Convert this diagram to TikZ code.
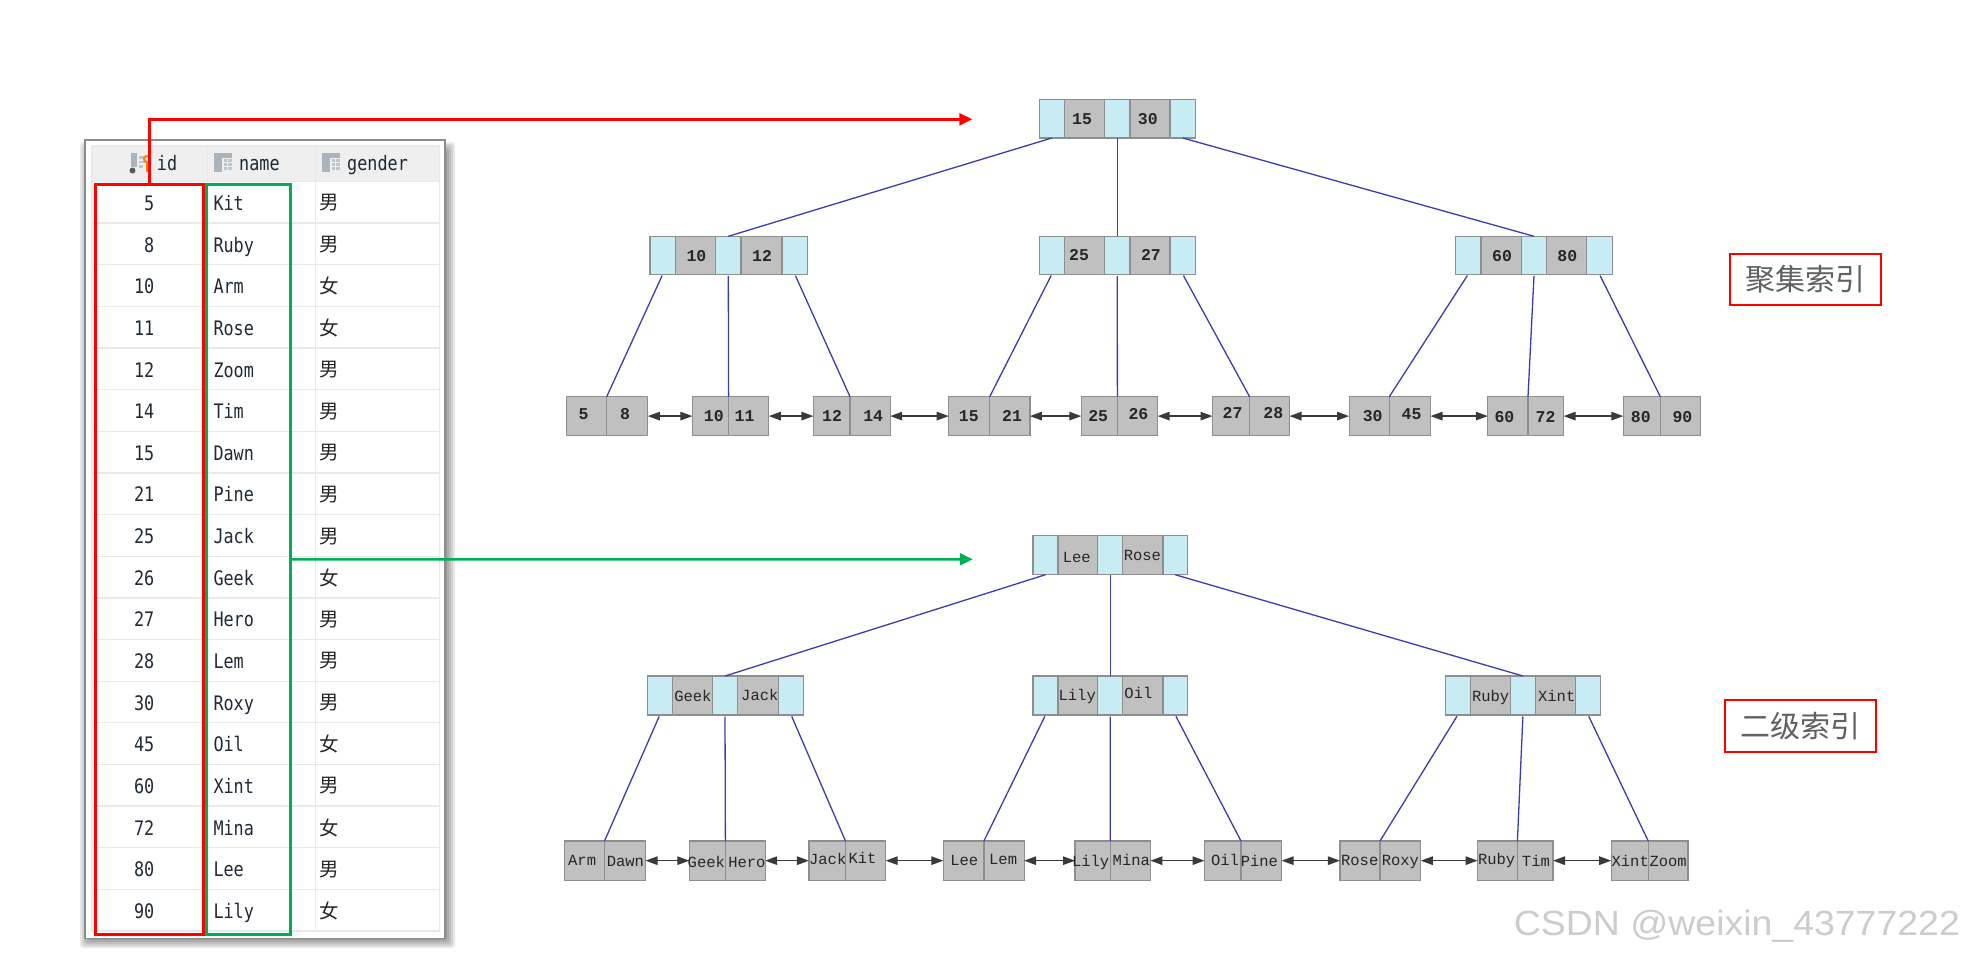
\documentclass[tikz,border=0pt]{standalone}
\usepackage{fontspec}
\usetikzlibrary{arrows.meta}
\setmainfont{Liberation Sans}
\newfontfamily\cjk{Noto Sans CJK SC}
\newfontfamily\tablefont[FakeStretch=0.84]{DejaVu Sans Mono}
\newfontfamily\treefont{Liberation Mono}
\newfontfamily\markfont[FakeStretch=1.07]{Liberation Sans}
\definecolor{cellblue}{HTML}{C8ECF4}
\definecolor{cellgray}{HTML}{C0C0C0}
\definecolor{cellline}{HTML}{8E8E8E}
\definecolor{treeline}{HTML}{3C3CB0}
\definecolor{linkline}{HTML}{3A3A3A}
\definecolor{rowline}{HTML}{E9E9E9}
\definecolor{headfill}{HTML}{EFEFEF}
\definecolor{tabletext}{HTML}{1F2A36}
\definecolor{indexgreen}{HTML}{00B050}
\definecolor{icongray}{HTML}{A9B4BC}
\definecolor{iconlight}{HTML}{BCC5CB}
\tikzset{
  x=1pt,y=-1pt,
  bluecell/.style={draw=cellline,fill=cellblue,line width=1.2pt,inner sep=0pt,outer sep=0pt},
  graycell/.style={draw=cellline,fill=cellgray,line width=1.2pt,inner sep=0pt,outer sep=0pt},
  numtext/.style={font=\treefont\bfseries\fontsize{16.5}{16.5}\selectfont,text=black!85,inner sep=0pt,text height=11pt,text depth=0pt},
  wordtext/.style={font=\treefont\fontsize{15.5}{15.5}\selectfont,text=black!85,inner sep=0pt,text height=10pt,text depth=0pt},
  treeedge/.style={draw=treeline,line width=1.3pt},
  leaflink/.style={draw=linkline,line width=1.3pt,{Triangle[length=12pt,width=8.5pt]}-{Triangle[length=12pt,width=8.5pt]}},
  idcell/.style={font=\tablefont\fontsize{20}{20}\selectfont,text=tabletext,inner sep=0pt,anchor=base east},
  namecell/.style={font=\tablefont\fontsize{20}{20}\selectfont,text=tabletext,inner sep=0pt,anchor=base west},
  gendercell/.style={font=\cjk\fontsize{19.5}{19.5}\selectfont,text=black!85,inner sep=0pt},
  headcell/.style={font=\tablefont\fontsize{20}{20}\selectfont,text=tabletext,inner sep=0pt,anchor=base west},
  indexlabel/.style={draw=red,line width=2pt,fill=white,font=\cjk\fontsize{30}{30}\selectfont,text=black!62,inner sep=0pt,outer sep=0pt},
  colbox/.style={line width=3pt,inner sep=0pt,outer sep=0pt},
  pointer/.style={line width=2.6pt,-{Triangle[length=13pt,width=12pt]}}
}
\newcommand\cell[6]{%
  \pgfmathsetmacro\cw{#3-#2}\pgfmathsetmacro\ch{#5-#4}%
  \node[#6,minimum width=\cw pt,minimum height=\ch pt] (#1) at ({(#2+#3)/2},{(#4+#5)/2}) {};}
\newcommand\innernode[9]{%
  \cell{#1a}{#2}{#3}{#8}{#9}{bluecell}\cell{#1x}{#3}{#4}{#8}{#9}{graycell}%
  \cell{#1b}{#4}{#5}{#8}{#9}{bluecell}\cell{#1y}{#5}{#6}{#8}{#9}{graycell}%
  \cell{#1c}{#6}{#7}{#8}{#9}{bluecell}}
\newcommand\leafnode[6]{%
  \cell{#1a}{#2}{#3}{#5}{#6}{graycell}\cell{#1b}{#3}{#4}{#5}{#6}{graycell}}
\newcommand\num[4]{\node[numtext] (#1) at (#2,#3) {#4};}
\newcommand\word[4]{\node[wordtext] (#1) at (#2,#3) {#4};}
\newcommand\tableicon[2]{%
  \fill[icongray] (#1,#2) rectangle ++(8,18.5);
  \fill[icongray] (#1+8,#2) rectangle ++(10,4.5);
  \fill[iconlight] (#1+9.5,#2+6) rectangle ++(3.5,3);
  \fill[iconlight] (#1+14,#2+6) rectangle ++(4,3);
  \fill[iconlight] (#1+9.5,#2+10) rectangle ++(3.5,3);
  \fill[iconlight] (#1+14,#2+10) rectangle ++(4,3);
  \fill[iconlight] (#1+9.5,#2+14) rectangle ++(3.5,3);
  \fill[iconlight] (#1+14,#2+14) rectangle ++(4,3);}
\begin{document}
\begin{tikzpicture}
\useasboundingbox (0,0) rectangle (1965,956);
\fill[white] (0,0) rectangle (1965,956);
% table shadow and frame
\foreach \s in {12,10,8,6,4,2}{
  \fill[black,opacity=.09,rounded corners=3pt] (85+7-\s,140+14-\s) rectangle (445+\s-2,938+\s-2);
}
\fill[white,draw=black!45,line width=1.4pt] (85,140) rectangle (445,938.3);
% header
\fill[headfill] (92,146) rectangle (439.3,181.5);
\draw[rowline,line width=1.3pt] (92,146) rectangle (439.3,931);
\foreach \i in {0,...,17}{
  \draw[rowline,line width=1.3pt] (92,{181.5+41.64*\i}) -- (439.3,{181.5+41.64*\i});
}
\draw[rowline,line width=1.3pt] (207.3,146) -- (207.3,931);
\draw[rowline,line width=1.3pt] (315.7,146) -- (315.7,931);
% header icons
\fill[icongray] (131,153) rectangle ++(6,14);
\fill[black!65] (132.5,170.5) circle (3pt);
\fill[iconlight] (139,156) rectangle ++(6,2.5);
\fill[iconlight] (139,160.5) rectangle ++(6,2.5);
\fill[iconlight] (139,165) rectangle ++(4,2.5);
\draw[orange,line width=2pt] (147,159) circle (3pt);
\draw[orange,line width=2pt] (147,162) -- (147,172);
\tableicon{214}{153}
\tableicon{322}{153}
\node[headcell] (hid) at (156.7,170) {id};
\node[headcell] (hname) at (239,170) {name};
\node[headcell] (hgender) at (347,170) {gender};
% rows
\foreach \i/\a/\b/\c in {0/5/Kit/男,1/8/Ruby/男,2/10/Arm/女,3/11/Rose/女,4/12/Zoom/男,5/14/Tim/男,6/15/Dawn/男,7/21/Pine/男,8/25/Jack/男,9/26/Geek/女,10/27/Hero/男,11/28/Lem/男,12/30/Roxy/男,13/45/Oil/女,14/60/Xint/男,15/72/Mina/女,16/80/Lee/男,17/90/Lily/女}{
  \node[idcell] (rid\i) at (154.5,{210.5+41.64*\i}) {\a};
  \node[namecell] (rname\i) at (213.3,{210.5+41.64*\i}) {\b};
  \node[gendercell] (rgen\i) at (329,{203+41.64*\i}) {\c};
}
% coloured column boxes
\node[colbox,draw=red,minimum width=107.5pt,minimum height=750.7pt] (idbox) at (149.25,559.35) {};
\node[colbox,draw=indexgreen,minimum width=84pt,minimum height=750.7pt] (namebox) at (248.7,559.35) {};
\coordinate (redtip) at (972.3,119.3);
\coordinate (greentip) at (972.8,559.3);
\draw[pointer,draw=red] (idbox.north) |- (redtip);
\draw[pointer,draw=indexgreen] (namebox.east) -- (greentip);

% clustered index tree
\innernode{ar}{1039.3}{1064.3}{1104.5}{1130}{1170}{1195.5}{99.7}{138}
\innernode{al}{650}{675.4}{715.6}{741}{782}{807.6}{236.3}{274.3}
\innernode{am}{1039.3}{1064.3}{1104.5}{1130}{1170}{1195.5}{236.3}{274.3}
\innernode{an}{1455.4}{1480.9}{1521.6}{1546.5}{1586.7}{1612.2}{236.3}{274.3}
\leafnode{ap}{566.5}{606.7}{647.8}{396.7}{435.5}
\leafnode{aq}{692.4}{728.6}{768.8}{396.7}{435.5}
\leafnode{as}{813.4}{850}{890.2}{396.7}{435.5}
\leafnode{at}{948.7}{989.7}{1029.9}{396.7}{435.5}
\leafnode{au}{1081.3}{1117.4}{1157.6}{396.7}{435.5}
\leafnode{av}{1212.5}{1249.6}{1289.5}{396.7}{435.5}
\leafnode{aw}{1349.1}{1389.3}{1430.5}{396.7}{435.5}
\leafnode{az}{1487.8}{1528}{1563.6}{396.7}{435.5}
\leafnode{ah}{1623.3}{1660.3}{1700.5}{396.7}{435.5}
\draw[treeedge] (ara.south) -- (alb.north);
\draw[treeedge] (arb.south) -- (amb.north);
\draw[treeedge] (arc.south) -- (anb.north);
\foreach \f/\t in {ala/apa.north east,alb/aqa.north east,alc/asa.north east,ama/ata.north east,amb/aua.north east,amc/ava.north east,ana/awa.north east,anb/aza.north east,anc/aha.north east}{
  \draw[treeedge,shorten <=1.5pt] (\f.south) -- (\t);
}
\foreach \f/\t in {ap/aq,aq/as,as/at,at/au,au/av,av/aw,aw/az,az/ah}{
  \draw[leaflink] (\f b.east) -- (\t a.west);
}
\num{n1}{1082}{119}{15}\num{n2}{1147.8}{119}{30}
\num{n3}{696.4}{256}{10}\num{n4}{762}{256}{12}
\num{n5}{1079}{255}{25}\num{n6}{1150.9}{255}{27}
\num{n7}{1502}{256}{60}\num{n8}{1567.3}{256}{80}
\num{n9}{583.5}{414.3}{5}\num{n10}{625}{414.3}{8}
\num{n11}{713.8}{415.7}{10}\num{n12}{744.6}{415.7}{11}
\num{n13}{832}{415.7}{12}\num{n14}{873.2}{415.7}{14}
\num{n15}{968.8}{415.7}{15}\num{n16}{1012}{415.7}{21}
\num{n17}{1098.2}{415.7}{25}\num{n18}{1138.4}{414.3}{26}
\num{n19}{1232.6}{413.3}{27}\num{n20}{1273.3}{413.3}{28}
\num{n21}{1372.7}{415.7}{30}\num{n22}{1411.5}{413.7}{45}
\num{n23}{1504.4}{416.7}{60}\num{n24}{1545.6}{416.7}{72}
\num{n25}{1640.8}{416.7}{80}\num{n26}{1682.4}{416.7}{90}

% secondary index tree
\innernode{br}{1033}{1058}{1097.8}{1122.8}{1163}{1187.5}{535.7}{574.7}
\innernode{bl}{647.3}{672.3}{712.5}{737.5}{778.6}{803.6}{676}{715}
\innernode{bm}{1033}{1058}{1097.8}{1122.8}{1163}{1187.5}{676}{715}
\innernode{bn}{1445.3}{1470.2}{1510.5}{1535.4}{1575.6}{1600.6}{676}{715}
\leafnode{bp}{564.3}{604.5}{645.5}{841}{880.3}
\leafnode{bq}{689.3}{725.4}{765.2}{841}{880.3}
\leafnode{bs}{808.9}{845.5}{885.7}{841}{880.3}
\leafnode{bt}{943.3}{983.9}{1024.1}{841}{880.3}
\leafnode{bu}{1075}{1110.3}{1150.4}{841}{880.3}
\leafnode{bv}{1204.5}{1241}{1281.6}{841}{880.3}
\leafnode{bw}{1339.9}{1380}{1420.8}{841}{880.3}
\leafnode{bz}{1477.6}{1517.4}{1553}{841}{880.3}
\leafnode{bh}{1611.2}{1648.2}{1688}{841}{880.3}
\draw[treeedge] (bra.south) -- (blb.north);
\draw[treeedge] (brb.south) -- (bmb.north);
\draw[treeedge] (brc.south) -- (bnb.north);
\foreach \f/\t in {bla/bpa.north east,blb/bqa.north east,blc/bsa.north east,bma/bta.north east,bmb/bua.north east,bmc/bva.north east,bna/bwa.north east,bnb/bza.north east,bnc/bha.north east}{
  \draw[treeedge,shorten <=1.5pt] (\f.south) -- (\t);
}
\foreach \f/\t in {bp/bq,bq/bs,bs/bt,bt/bu,bu/bv,bv/bw,bw/bz,bz/bh}{
  \draw[leaflink] (\f b.east) -- (\t a.west);
}
\word{w1}{1076.8}{557.7}{Lee}\word{w2}{1142.4}{555.3}{Rose}
\word{w3}{692.9}{696.7}{Geek}\word{w4}{759.8}{695.7}{Jack}
\word{w5}{1077.2}{695.7}{Lily}\word{w6}{1138.4}{693.3}{Oil}
\word{w7}{1490.6}{696.7}{Ruby}\word{w8}{1556.7}{696.7}{Xint}
\word{w9}{582.1}{860.7}{Arm}\word{w10}{625.4}{861.7}{Dawn}
\word{w11}{706.3}{862.7}{Geek}\word{w12}{746.9}{862.7}{Hero}
\word{w13}{827.7}{859.7}{Jack}\word{w14}{862.5}{858.7}{Kit}
\word{w15}{964.3}{860.3}{Lee}\word{w16}{1003.1}{859.7}{Lem}
\word{w17}{1090.6}{861.7}{Lily}\word{w18}{1131.3}{860.3}{Mina}
\word{w19}{1225}{860.3}{Oil}\word{w20}{1259.4}{861.3}{Pine}
\word{w21}{1359.7}{860.3}{Rose}\word{w22}{1400.4}{860}{Roxy}
\word{w23}{1496.6}{859.7}{Ruby}\word{w24}{1535.9}{861.3}{Tim}
\word{w25}{1630.2}{861.3}{Xint}\word{w26}{1668.1}{861.3}{Zoom}

% labels
\node[indexlabel,minimum width=150.8pt,minimum height=51.3pt] (lab1) at (1805.4,279.3) {聚集索引};
\node[indexlabel,minimum width=151pt,minimum height=52.3pt] (lab2) at (1800.5,725.8) {二级索引};
% watermark
\node[font=\markfont\fontsize{35}{35}\selectfont,text=black!20,inner sep=0pt,anchor=west] (mark) at (1513.7,926) {CSDN @weixin\_43777222};
\end{tikzpicture}
\end{document}
